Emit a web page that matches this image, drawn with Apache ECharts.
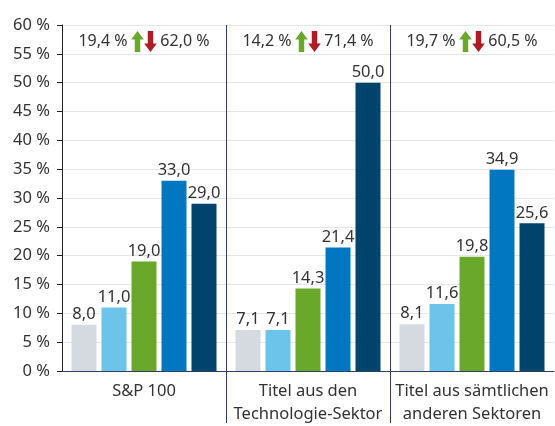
<!DOCTYPE html>
<html>
<head>
<meta charset="utf-8">
<script src="https://cdn.jsdelivr.net/npm/echarts@6/dist/echarts.min.js"></script>
<style>
  html, body { margin: 0; padding: 0; background: #fff; }
  #chart { width: 555px; height: 426px; }
</style>
</head>
<body>
<div id="chart"></div>
<script>
// categories and values
var categories = ["S&P 100", "Titel aus den\nTechnologie-Sektor", "Titel aus sämtlichen\nanderen Sektoren"];
var greyValues = [8.0, 7.1, 8.1];
var lightBlueValues = [11.0, 7.1, 11.6];
var greenValues = [19.0, 14.3, 19.8];
var blueValues = [33.0, 21.4, 34.9];
var navyValues = [29.0, 50.0, 25.6];
var upShares = ["19,4 %", "14,2 %", "19,7 %"];
var downShares = ["62,0 %", "71,4 %", "60,5 %"];

var textColor = "#333";
var fontFamily = "Noto Sans";
var divider = "#2b4266";

// arrow pictures for the top annotations
function svgUrl(svg) {
  return "data:image/svg+xml;charset=utf-8," + encodeURIComponent(svg);
}
var upArrow = svgUrl('<svg xmlns="http://www.w3.org/2000/svg" width="13" height="21" viewBox="0 0 12 20"><polygon fill="#6aa82c" points="6,0 12,8 8.6,8 8.6,20 3.4,20 3.4,8 0,8"/></svg>');
var downArrow = svgUrl('<svg xmlns="http://www.w3.org/2000/svg" width="13" height="21" viewBox="0 0 12 20"><polygon fill="#b01c24" points="6,20 12,12 8.6,12 8.6,0 3.4,0 3.4,12 0,12"/></svg>');

function fmt(v) {
  return v.toFixed(1).replace(".", ",");
}

var chart = echarts.init(document.getElementById("chart"));

function barSeries(name, values, color) {
  return {
    name: name,
    type: "bar",
    data: values,
    barWidth: 25,
    barGap: "20%",
    itemStyle: { color: color },
    label: {
      show: true,
      position: "top",
      distance: 2,
      color: textColor,
      fontFamily: fontFamily,
      fontSize: 16.5,
      formatter: function (p) { return fmt(p.value); },
    },
  };
}

chart.setOption({
  animation: false,
  grid: { left: 62, right: 1, top: 25, bottom: 52 },
  xAxis: [
    {
      type: "category",
      data: categories,
      position: "bottom",
      axisLine: { lineStyle: { color: divider, width: 1 } },
      axisTick: { show: false },
      axisLabel: {
        color: textColor,
        fontFamily: fontFamily,
        fontSize: 16.5,
        lineHeight: 23,
        margin: 9,
        interval: 0,
      },
    },
    {
      // band dividers below the axis
      type: "value",
      min: 0,
      max: 3,
      interval: 1,
      position: "bottom",
      axisLine: { show: false },
      axisLabel: { show: false },
      splitLine: { show: false },
      axisTick: { show: true, length: 52, customValues: [1, 2], lineStyle: { color: divider } },
    },
    {
      // band dividers inside the plot
      type: "value",
      min: 0,
      max: 3,
      interval: 1,
      position: "top",
      axisLine: { show: false },
      axisLabel: { show: false },
      splitLine: { show: false },
      axisTick: { show: true, inside: true, length: 349, customValues: [1, 2], lineStyle: { color: divider } },
    },
    {
      // annotations on top
      type: "category",
      data: categories,
      position: "top",
      axisLine: { show: false },
      axisTick: { show: false },
      axisLabel: {
        inside: true,
        margin: 6,
        interval: 0,
        formatter: function (v, i) {
          return "{t|" + upShares[i] + "} {up|}{dn|} {t|" + downShares[i] + "}";
        },
        rich: {
          t: { color: textColor, fontFamily: fontFamily, fontSize: 16 },
          up: { width: 13, height: 21, backgroundColor: { image: upArrow } },
          dn: { width: 13, height: 21, backgroundColor: { image: downArrow } },
        },
      },
    },
  ],
  yAxis: {
    type: "value",
    min: 0,
    max: 60,
    interval: 5,
    axisLine: { show: true, lineStyle: { color: "#222" } },
    axisTick: { show: true, length: 5, lineStyle: { color: "#222" } },
    axisLabel: {
      color: textColor,
      fontFamily: fontFamily,
      fontSize: 16.5,
      margin: 12,
      formatter: "{value} %",
    },
    splitLine: { lineStyle: { color: "#e3e6ea" } },
  },
  series: [
    barSeries("a", greyValues, "#d5dae1"),
    barSeries("b", lightBlueValues, "#6cc4ea"),
    barSeries("c", greenValues, "#6aa82c"),
    barSeries("d", blueValues, "#0077c0"),
    barSeries("e", navyValues, "#00436c"),
  ],
});
</script>
</body>
</html>
